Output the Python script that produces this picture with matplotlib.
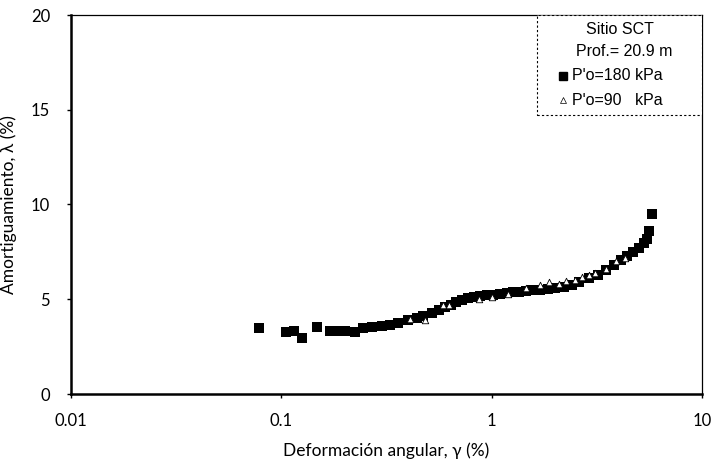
import matplotlib
matplotlib.use("Agg")
import matplotlib.pyplot as plt
from matplotlib.ticker import FixedLocator, FixedFormatter, NullLocator
from matplotlib.patches import Rectangle

# P'o = 180 kPa (filled squares)
x_180 = [0.078, 0.105, 0.115, 0.125, 0.148, 0.17, 0.185, 0.2, 0.225, 0.245, 0.27,
         0.3, 0.33, 0.36, 0.4, 0.44, 0.47, 0.52, 0.56, 0.6, 0.64, 0.68, 0.72,
         0.77, 0.82, 0.88, 0.95, 1.02, 1.1, 1.18, 1.26, 1.35, 1.45, 1.55, 1.7,
         1.85, 2.0, 2.2, 2.4, 2.6, 2.9, 3.2, 3.5, 3.8, 4.1, 4.4, 4.7, 5.0,
         5.3, 5.5, 5.6, 5.8]
y_180 = [3.5, 3.25, 3.35, 2.95, 3.55, 3.35, 3.35, 3.35, 3.25, 3.5, 3.55,
         3.6, 3.65, 3.75, 3.9, 4.0, 4.1, 4.25, 4.45, 4.6, 4.7, 4.85, 4.95,
         5.05, 5.1, 5.15, 5.2, 5.25, 5.3, 5.35, 5.4, 5.4, 5.45, 5.5, 5.5,
         5.55, 5.6, 5.65, 5.75, 5.9, 6.1, 6.3, 6.55, 6.8, 7.05, 7.3, 7.5, 7.7,
         7.95, 8.2, 8.6, 9.5]

# P'o = 90 kPa (open triangles)
x_90 = [0.41, 0.48, 0.59, 0.63, 0.87, 1.0, 1.2, 1.46, 1.7, 1.88, 2.1, 2.26,
        2.5, 2.7, 2.9, 3.1, 3.5, 3.9, 4.3]
y_90 = [3.95, 3.9, 4.7, 4.7, 5.0, 5.1, 5.3, 5.6, 5.75, 5.9, 5.8, 5.95,
        6.0, 6.2, 6.3, 6.4, 6.6, 7.0, 7.2]

x_ticks = [0.01, 0.1, 1, 10]
x_ticklabels = ["0.01", "0.1", "1", "10"]
y_ticks = [0, 5, 10, 15, 20]

font = "Lato"
lfont = "Liberation Sans"

fig = plt.figure(figsize=(7.13, 4.61), dpi=100)
ax = fig.add_axes([71/713, 67/461, 631/713, 379/461])

ax.scatter(x_180, y_180, marker="s", s=42, color="black", zorder=3,
           linewidths=0)
ax.scatter(x_90, y_90, marker="^", s=22, facecolor="white",
           edgecolor="black", linewidths=0.6, zorder=4)

ax.set_xscale("log")
ax.set_xlim(0.01, 10)
ax.set_ylim(0, 20)
ax.xaxis.set_major_locator(FixedLocator(x_ticks))
ax.xaxis.set_major_formatter(FixedFormatter(x_ticklabels))
ax.xaxis.set_minor_locator(NullLocator())
ax.set_yticks(y_ticks)

ax.tick_params(axis="both", direction="out", length=3, width=1,
               labelsize=12)
ax.tick_params(axis="x", pad=11)
ax.tick_params(axis="y", pad=12)
for lab in ax.get_xticklabels() + ax.get_yticklabels():
    lab.set_fontfamily(font)

for side in ["left", "bottom"]:
    ax.spines[side].set_linewidth(1.8)
for side in ["top", "right"]:
    ax.spines[side].set_linewidth(0.9)

ax.set_xlabel("Deformación angular, γ (%)", fontsize=12.5, family=font,
              labelpad=9)
ax.set_ylabel("Amortiguamiento, λ (%)", fontsize=12.5, family=font,
              labelpad=10)

# Legend box (drawn manually)
box_x0, box_y0 = (537 - 71) / 631, (394 - 115) / 379
ax.add_patch(Rectangle((box_x0, box_y0), 1 - box_x0, 1 - box_y0,
                       transform=ax.transAxes, facecolor="white",
                       edgecolor="black", linewidth=0.8,
                       linestyle=(0, (2, 2)), zorder=5))

def ypos(py):
    return (394 - py) / 379

def xpos(px):
    return (px - 71) / 631

ax.text(xpos(620), ypos(29), "Sitio SCT", transform=ax.transAxes,
        ha="center", va="center", fontsize=11.5, family=lfont, zorder=6)
ax.text(xpos(624), ypos(52), "Prof.= 20.9 m", transform=ax.transAxes,
        ha="center", va="center", fontsize=11.5, family=lfont, zorder=6)
ax.plot([xpos(563)], [ypos(76)], marker="s", color="black", markersize=6,
        transform=ax.transAxes, zorder=6, clip_on=False)
ax.text(xpos(572), ypos(76), "P'o=180 kPa", transform=ax.transAxes,
        ha="left", va="center", fontsize=11.5, family=lfont, zorder=6)
ax.plot([xpos(563)], [ypos(100)], marker="^", markerfacecolor="white",
        markeredgecolor="black", markeredgewidth=0.5, markersize=5,
        transform=ax.transAxes, zorder=6, clip_on=False)
ax.text(xpos(572), ypos(100), "P'o=90   kPa", transform=ax.transAxes,
        ha="left", va="center", fontsize=11.5, family=lfont, zorder=6)

fig.savefig("out.png", dpi=100)
